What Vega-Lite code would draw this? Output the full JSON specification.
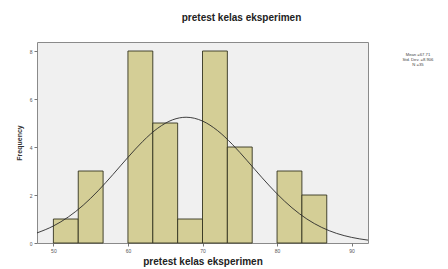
{
  "$schema": "https://vega.github.io/schema/vega-lite/v6.json",
  "width": 331,
  "height": 201,
  "padding": {"left": 37, "top": 42, "right": 80, "bottom": 26},
  "autosize": {"type": "none"},
  "background": "white",
  "config": {
    "font": "Liberation Sans",
    "view": {"fill": "#f0f0f0", "stroke": "#8a8a8a", "strokeWidth": 1}
  },
  "title": {
    "text": "pretest kelas eksperimen",
    "fontSize": 10,
    "fontWeight": "bold",
    "color": "#222222",
    "offset": 19,
    "dx": 39,
    "limit": 0
  },
  "datasets": {
    "bins": [
      {"start": 50, "end": 53.333, "count": 1},
      {"start": 53.333, "end": 56.667, "count": 3},
      {"start": 60, "end": 63.333, "count": 8},
      {"start": 63.333, "end": 66.667, "count": 5},
      {"start": 66.667, "end": 70, "count": 1},
      {"start": 70, "end": 73.333, "count": 8},
      {"start": 73.333, "end": 76.667, "count": 4},
      {"start": 80, "end": 83.333, "count": 3},
      {"start": 83.333, "end": 86.667, "count": 2}
    ],
    "curve": [
      {"x": 47.8, "y": 0.42},
      {"x": 50, "y": 0.709},
      {"x": 52, "y": 1.084},
      {"x": 54, "y": 1.575},
      {"x": 56, "y": 2.176},
      {"x": 58, "y": 2.858},
      {"x": 60, "y": 3.569},
      {"x": 62, "y": 4.238},
      {"x": 64, "y": 4.784},
      {"x": 66, "y": 5.134},
      {"x": 67.8, "y": 5.24},
      {"x": 70, "y": 5.082},
      {"x": 72, "y": 4.688},
      {"x": 74, "y": 4.111},
      {"x": 76, "y": 3.427},
      {"x": 78, "y": 2.717},
      {"x": 80, "y": 2.048},
      {"x": 82, "y": 1.468},
      {"x": 84, "y": 1.0},
      {"x": 86, "y": 0.648},
      {"x": 88, "y": 0.399},
      {"x": 90, "y": 0.234},
      {"x": 92.2, "y": 0.12}
    ],
    "legend": [
      {"x": 98.9, "y": 7.84, "label": "Mean =67.71"},
      {"x": 98.9, "y": 7.63, "label": "Std. Dev. =8.906"},
      {"x": 98.9, "y": 7.42, "label": "N =35"}
    ]
  },
  "layer": [
    {
      "data": {"name": "bins"},
      "mark": {"type": "rect", "fill": "#d4ce96", "stroke": "#33331f", "strokeWidth": 0.9},
      "encoding": {
        "x": {
          "field": "start",
          "type": "quantitative",
          "scale": {"domain": [47.8, 92.2], "nice": false, "zero": false},
          "axis": {
            "values": [50, 60, 70, 80, 90],
            "title": "pretest kelas eksperimen",
            "titleFontSize": 10,
            "titleFontWeight": "bold",
            "titleColor": "#222222",
            "titlePadding": 3,
            "labelFontSize": 5,
            "labelColor": "#555555",
            "tickColor": "#777777",
            "tickSize": 3,
            "domain": false,
            "grid": false
          }
        },
        "x2": {"field": "end"},
        "y": {
          "field": "count",
          "type": "quantitative",
          "scale": {"domain": [0, 8.375], "nice": false},
          "axis": {
            "values": [0, 2, 4, 6, 8],
            "title": "Frequency",
            "titleFontSize": 7,
            "titleFontWeight": "bold",
            "titleColor": "#333333",
            "titlePadding": 7,
            "labelFontSize": 5,
            "labelColor": "#555555",
            "tickColor": "#777777",
            "tickSize": 3,
            "domain": false,
            "grid": false
          }
        },
        "y2": {"datum": 0}
      }
    },
    {
      "data": {"name": "curve"},
      "mark": {"type": "line", "color": "#2a2a2a", "strokeWidth": 0.9, "interpolate": "monotone"},
      "encoding": {
        "x": {"field": "x", "type": "quantitative"},
        "y": {"field": "y", "type": "quantitative"}
      }
    },
    {
      "data": {"name": "legend"},
      "mark": {"type": "text", "fontSize": 4.2, "color": "#444444", "clip": false, "align": "center", "baseline": "middle"},
      "encoding": {
        "x": {"field": "x", "type": "quantitative"},
        "y": {"field": "y", "type": "quantitative"},
        "text": {"field": "label"}
      }
    }
  ]
}
